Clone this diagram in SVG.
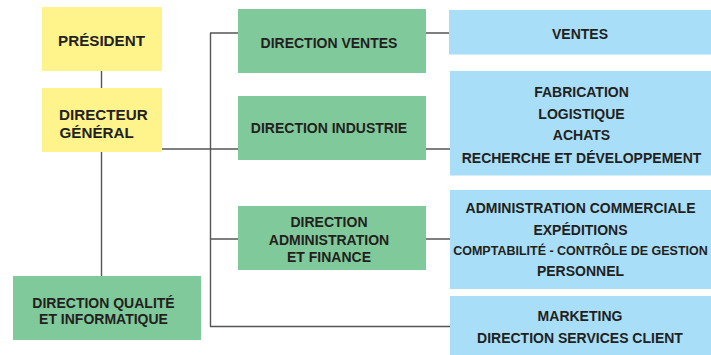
<svg xmlns="http://www.w3.org/2000/svg" width="711" height="355" viewBox="0 0 711 355">
<style>
.y{fill:#FEF48B}
.g{fill:#80C99A}
.b{fill:#A8DEF8}
text{font-family:"Liberation Sans",Arial,sans-serif;font-weight:bold;fill:#231F20;font-size:14px}
.c{text-anchor:middle}
.l{font-size:15.2px}
.s{font-size:12.5px}
.conn{stroke:#555;stroke-width:1.4;fill:none}
</style>
<rect width="711" height="355" fill="#fff"/>
<g id="connectors" class="conn">
<path d="M101.5 71V88M101.5 152V276"/>
<path d="M162 149H238M210.5 33V326.5M210 33H238M210 239H238M210 326.5H450"/>
<path d="M426 33H449M426 149H450M426 239H450"/>
</g>
<g id="president"><rect class="y" x="42" y="7" width="120" height="64"/><text class="c l" x="101.5" y="46">PRÉSIDENT</text></g>
<g id="directeur-general"><rect class="y" x="42" y="88" width="120" height="64"/><text class="l" x="59" y="119.5">DIRECTEUR</text><text class="l" x="59.5" y="137.5">GÉNÉRAL</text></g>
<g id="direction-qualite"><rect class="g" x="13" y="276" width="188" height="64"/><text class="c" x="103.5" y="307.5">DIRECTION QUALITÉ</text><text class="c" x="103.5" y="324">ET INFORMATIQUE</text></g>
<g id="direction-ventes"><rect class="g" x="238" y="9" width="188" height="64"/><text class="c" x="329" y="47.5">DIRECTION VENTES</text></g>
<g id="direction-industrie"><rect class="g" x="238" y="96" width="188" height="64"/><text class="c" x="329" y="132.5">DIRECTION INDUSTRIE</text></g>
<g id="direction-admin"><rect class="g" x="238" y="206" width="188" height="64"/><text class="c" x="329" y="227.3">DIRECTION</text><text class="c" x="329" y="245.3">ADMINISTRATION</text><text class="c" x="329" y="262">ET FINANCE</text></g>
<g id="ventes"><rect class="b" x="449" y="10" width="262" height="44.5"/><text class="c" x="580" y="39.3">VENTES</text></g>
<g id="industrie"><rect class="b" x="450" y="71" width="261" height="104.5"/><text class="c" x="581.5" y="97.3">FABRICATION</text><text class="c" x="581.5" y="119">LOGISTIQUE</text><text class="c" x="581.5" y="139.7">ACHATS</text><text class="c" x="581.5" y="162.7">RECHERCHE ET DÉVELOPPEMENT</text></g>
<g id="administration"><rect class="b" x="450" y="190" width="261" height="99"/><text class="c" x="580.5" y="213">ADMINISTRATION COMMERCIALE</text><text class="c" x="580.5" y="235">EXPÉDITIONS</text><text class="c s" x="580.5" y="255">COMPTABILITÉ - CONTRÔLE DE GESTION</text><text class="c" x="580.5" y="275.7">PERSONNEL</text></g>
<g id="marketing"><rect class="b" x="450" y="296" width="261" height="59"/><text class="c" x="580" y="320.7">MARKETING</text><text class="c" x="580" y="343.3">DIRECTION SERVICES CLIENT</text></g>
</svg>
